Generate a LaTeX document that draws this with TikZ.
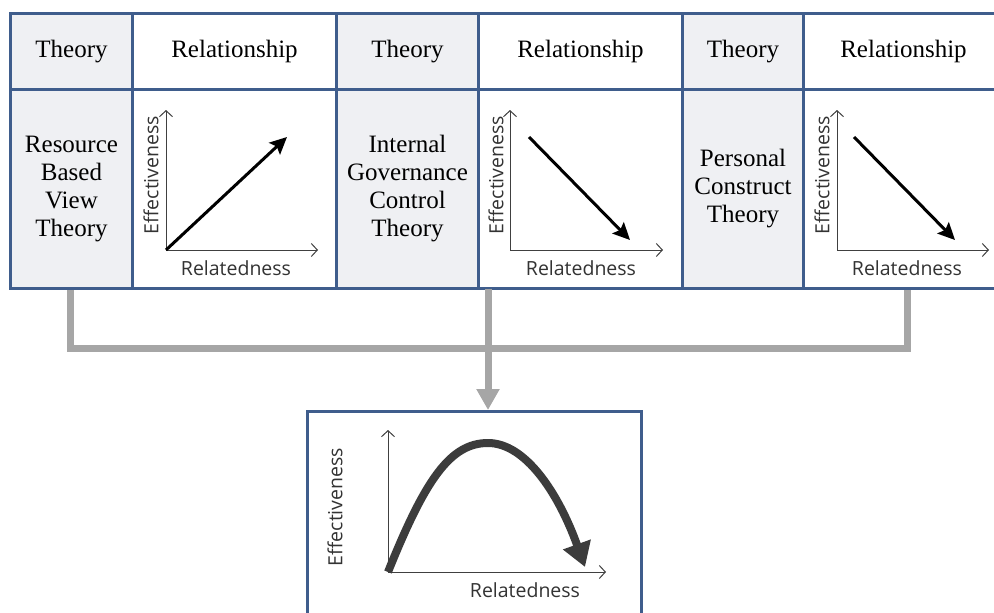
\documentclass[tikz,border=0pt]{standalone}
\usepackage{fontspec}
\setmainfont{Liberation Serif}
\newfontfamily\axisfont{Open Sans}
\usetikzlibrary{arrows.meta}

\definecolor{frame}{HTML}{3F5D8C}
\definecolor{thfill}{HTML}{EFF0F3}
\definecolor{linkgray}{HTML}{A6A6A6}
\definecolor{humpgray}{HTML}{3C3C3C}

\tikzset{
  cell/.style={draw=frame, line width=3pt, rectangle, inner sep=0pt,
    anchor=north west, align=center, font=\fontsize{25}{28}\selectfont},
  thcell/.style={cell, fill=thfill},
  relcell/.style={cell, fill=white},
  axis/.style={line width=1pt, black!75, -{Straight Barb[length=6pt,width=13pt]}},
  axlab/.style={font=\axisfont\fontsize{19.5}{22}\selectfont, text=black!80, inner sep=0pt},
  trend/.style={line width=3pt, -{Stealth[length=17pt,width=16pt,inset=3pt]}},
  link/.style={draw=linkgray, line width=7pt}
}

\begin{document}
\begin{tikzpicture}[x=1pt, y=-1pt]
  \useasboundingbox (0,0) rectangle (994,613);

  % grey connectors (under the table)
  \coordinate (c1) at (70,287);
  \coordinate (c2) at (488,287);
  \coordinate (c3) at (907,287);
  \coordinate (jn) at (488,348);
  \draw[link] (c1) |- (jn) -| (c3);

  % header row
  \node[thcell, minimum width=122pt, minimum height=76pt] (th1h) at (9,12) {Theory};
  \node[relcell, minimum width=204pt, minimum height=76pt] (rel1h) at (131,12) {Relationship};
  \node[thcell, minimum width=142pt, minimum height=76pt] (th2h) at (335,12) {Theory};
  \node[relcell, minimum width=204pt, minimum height=76pt] (rel2h) at (477,12) {Relationship};
  \node[thcell, minimum width=121pt, minimum height=76pt] (th3h) at (681,12) {Theory};
  \node[relcell, minimum width=200pt, minimum height=76pt] (rel3h) at (802,12) {Relationship};

  % body row
  \node[thcell, minimum width=122pt, minimum height=199pt] (th1) at (9,88) {Resource\\Based\\View\\Theory};
  \node[relcell, minimum width=204pt, minimum height=199pt] (rel1) at (131,88) {};
  \node[thcell, minimum width=142pt, minimum height=199pt] (th2) at (335,88) {Internal\\Governance\\Control\\Theory};
  \node[relcell, minimum width=204pt, minimum height=199pt] (rel2) at (477,88) {};
  \node[thcell, minimum width=121pt, minimum height=199pt] (th3) at (681,88) {Personal\\Construct\\Theory};
  \node[relcell, minimum width=200pt, minimum height=199pt] (rel3) at (802,88) {};

  % graph 1: rising
  \coordinate (o1) at (166,250);
  \draw[axis] (o1) -- (166,110);
  \draw[axis] (o1) -- (318,250);
  \draw[trend] (o1) -- (287,137);
  \node[axlab] (x1) at (236,268) {Relatedness};
  \node[axlab, rotate=90] (y1) at (151,175) {Effectiveness};

  % graph 2: falling
  \coordinate (o2) at (510,250);
  \draw[axis] (o2) -- (510,110);
  \draw[axis] (o2) -- (663,250);
  \draw[trend] (529,137) -- (630,240);
  \node[axlab] (x2) at (581,268) {Relatedness};
  \node[axlab, rotate=90] (y2) at (496,175) {Effectiveness};

  % graph 3: falling
  \coordinate (o3) at (837,250);
  \draw[axis] (o3) -- (837,110);
  \draw[axis] (o3) -- (989,250);
  \draw[trend] (854,137) -- (955,240);
  \node[axlab] (x3) at (907,268) {Relatedness};
  \node[axlab, rotate=90] (y3) at (822,175) {Effectiveness};

  % result box
  \node[relcell, minimum width=334pt, minimum height=220pt] (res) at (306,410) {};
  \draw[link, shorten <=1.5pt, -{Triangle[length=21pt,width=22pt]}] (c2) -- (c2 |- res.north);

  % inverted U
  \coordinate (o4) at (388,572);
  \draw[axis] (o4) -- (388,430);
  \draw[axis] (o4) -- (606,572);
  \draw[humpgray, line width=8pt, -{Triangle[length=24pt,width=28pt]}]
    (o4) .. controls (425,480) and (450,443) .. (488,443)
    .. controls (525,443) and (558,492) .. (585,567);
  \node[axlab] (x4) at (525,590) {Relatedness};
  \node[axlab, rotate=90] (y4) at (335,507) {Effectiveness};
\end{tikzpicture}
\end{document}
